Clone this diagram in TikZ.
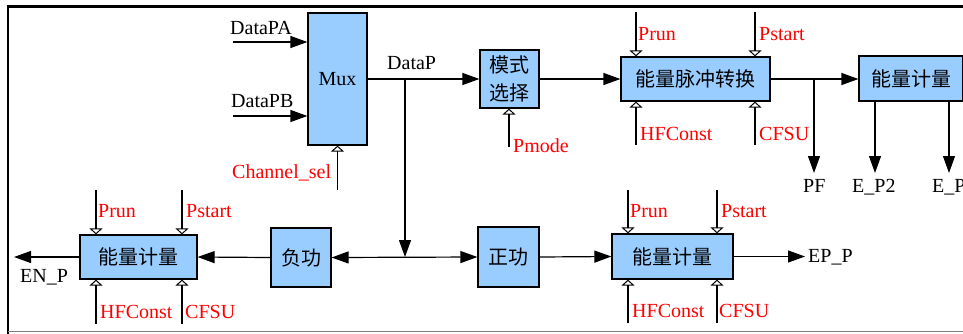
\documentclass[tikz,border=0pt]{standalone}
\usepackage{fontspec}
\setmainfont{Liberation Serif}
\newfontfamily\cjk{Noto Sans CJK SC}
\usetikzlibrary{arrows.meta}
\definecolor{boxblue}{HTML}{99CCFF}
\definecolor{sigred}{HTML}{FF0000}
\begin{document}
\begin{tikzpicture}[x=1pt,y=-1pt,
  box/.style={draw=black, line width=1.2pt, fill=boxblue, inner sep=0pt, align=center,
              font=\cjk\fontsize{20}{28}\selectfont},
  lbl/.style={font=\fontsize{20}{24}\selectfont, inner sep=0pt, anchor=base west},
  par/.style={lbl, text=sigred},
  wire/.style={line width=1.2pt},
  sig/.style={wire, -{Triangle[length=17pt,width=12pt]}},
  ctl/.style={wire, -{Triangle[open,length=6pt,width=13pt,line width=1pt]}},
]
\useasboundingbox (0,0) rectangle (963,333);
\clip (0,0) rectangle (963,333);

% frame
\draw[line width=2.2pt] (8,334) -- (8,6.5) -- (970,6.5);
\draw[gray, line width=1pt] (8,331.5) -- (970,331.5);

% boxes
\node[box, minimum width=59pt, minimum height=132pt, font=\fontsize{20}{24}\selectfont] (mux) at (337.5,79) {Mux};
\node[box, minimum width=59pt, minimum height=58pt] (mode) at (509.5,79) {模式\\选择};
\node[box, minimum width=149pt, minimum height=44pt] (conv) at (695.5,79) {能量脉冲转换};
\node[box, minimum width=104pt, minimum height=45pt] (meterT) at (911,78.5) {能量计量};
\node[box, minimum width=117pt, minimum height=44pt] (meterL) at (138.5,257) {能量计量};
\node[box, minimum width=60pt, minimum height=59pt] (neg) at (301,257.5) {负功};
\node[box, minimum width=61pt, minimum height=60pt] (pos) at (508.5,257) {正功};
\node[box, minimum width=121pt, minimum height=45pt] (meterR) at (672.5,256.5) {能量计量};

% free ends
\coordinate (inA) at (233,42);
\coordinate (inB) at (233,116);
\coordinate (csel) at (337.5,190);
\coordinate (br) at (405,79);
\coordinate (brEnd) at (405,257);
\coordinate (pm) at (509,147);
\coordinate (prunT) at (636,12);
\coordinate (pstT) at (755,12);
\coordinate (hfT) at (636,145);
\coordinate (cfT) at (755,145);
\coordinate (brPF) at (814,79);
\coordinate (pfEnd) at (814,173);
\coordinate (ep2End) at (875,173);
\coordinate (ep1End) at (949,173);
\coordinate (enp) at (14,257);
\coordinate (prunL) at (96,190);
\coordinate (pstL) at (182,190);
\coordinate (hfL) at (96,324);
\coordinate (cfL) at (182,324);
\coordinate (prunR) at (628,190);
\coordinate (pstR) at (717,190);
\coordinate (hfR) at (628,323);
\coordinate (cfR) at (717,323);
\coordinate (epp) at (805,256.5);

% connectors
\draw[sig] (inA) -- (inA -| mux.west);
\draw[sig] (inB) -- (inB -| mux.west);
\draw[ctl] (csel) -- (mux.south);
\draw[sig] (mux.east) -- (mode.west);
\draw[sig] (br) -- (brEnd);
\draw[ctl] (pm) -- (pm |- mode.south);
\draw[sig] (mode.east) -- (conv.west);
\draw[ctl] (prunT) -- (prunT |- conv.north);
\draw[ctl] (pstT) -- (pstT |- conv.north);
\draw[ctl] (hfT) -- (hfT |- conv.south);
\draw[ctl] (cfT) -- (cfT |- conv.south);
\draw[sig] (conv.east) -- (conv.east -| meterT.west);
\draw[sig] (brPF) -- (pfEnd);
\draw[sig] (ep2End |- meterT.south) -- (ep2End);
\draw[sig] (ep1End |- meterT.south) -- (ep1End);
\draw[wire, {Triangle[length=17pt,width=12pt]}-{Triangle[length=17pt,width=12pt]}] (neg.east) -- (pos.west);
\draw[sig] (neg.west) -- (meterL.east);
\draw[sig] (meterL.west) -- (enp);
\draw[ctl] (prunL) -- (prunL |- meterL.north);
\draw[ctl] (pstL) -- (pstL |- meterL.north);
\draw[ctl] (hfL) -- (hfL |- meterL.south);
\draw[ctl] (cfL) -- (cfL |- meterL.south);
\draw[sig] (pos.east) -- (meterR.west);
\draw[sig] (meterR.east) -- (epp);
\draw[ctl] (prunR) -- (prunR |- meterR.north);
\draw[ctl] (pstR) -- (pstR |- meterR.north);
\draw[ctl] (hfR) -- (hfR |- meterR.south);
\draw[ctl] (cfR) -- (cfR |- meterR.south);

% labels
\node[lbl] (tA) at (230,34) {DataPA};
\node[lbl] (tB) at (231,107) {DataPB};
\node[par] (tCs) at (232,178) {Channel\_sel};
\node[lbl] (tP) at (387,69) {DataP};
\node[par] (tPm) at (513,152) {Pmode};
\node[par] (tPrT) at (638,40) {Prun};
\node[par] (tPsT) at (759,40) {Pstart};
\node[par] (tHfT) at (640,140) {HFConst};
\node[par] (tCfT) at (759,140) {CFSU};
\node[lbl] (tPF) at (803,192) {PF};
\node[lbl] (tE2) at (852,192) {E\_P2};
\node[lbl] (tE1) at (932,192) {E\_P};
\node[par] (tPrL) at (98,217) {Prun};
\node[par] (tPsL) at (186,217) {Pstart};
\node[par] (tHfL) at (100,318) {HFConst};
\node[par] (tCfL) at (185,318) {CFSU};
\node[lbl] (tEN) at (20,282) {EN\_P};
\node[par] (tPrR) at (630,217) {Prun};
\node[par] (tPsR) at (721,217) {Pstart};
\node[par] (tHfR) at (632,317) {HFConst};
\node[par] (tCfR) at (719,317) {CFSU};
\node[lbl] (tEP) at (808,262) {EP\_P};
\end{tikzpicture}
\end{document}
